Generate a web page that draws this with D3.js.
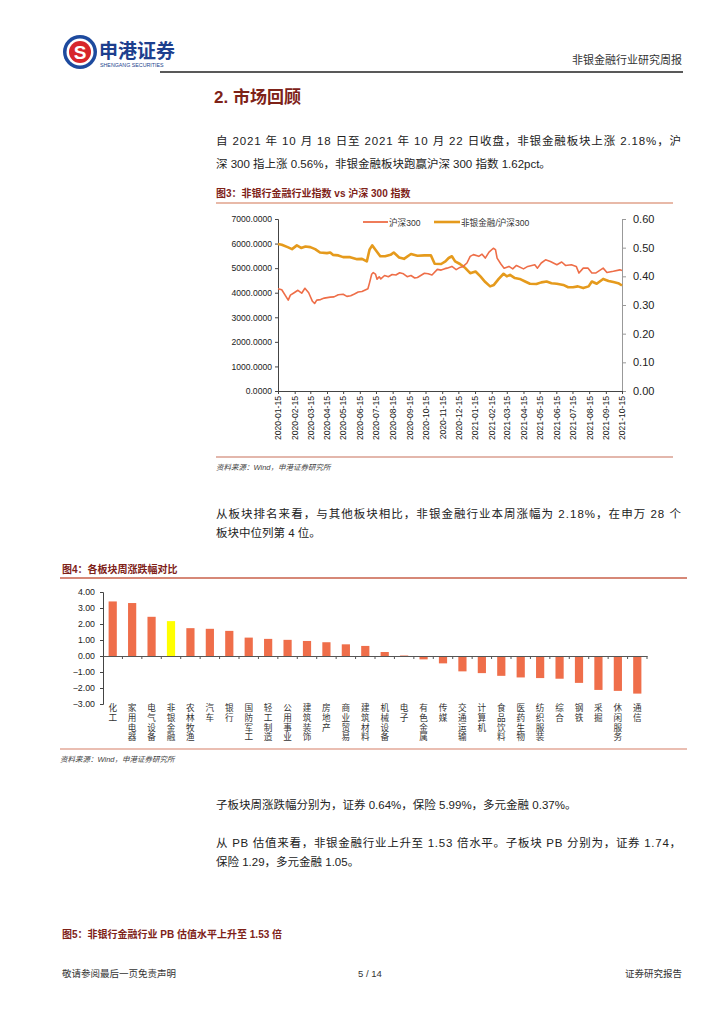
<!DOCTYPE html>
<html><head><meta charset="utf-8">
<script src="https://cdn.jsdelivr.net/npm/d3@7"></script>
<style>body{margin:0;background:#fff}</style>
</head><body><svg id="c" width="724" height="1024"></svg>
<script>
// ---------- DATA ----------
const hsDates=["2020-01-15","2020-01-22","2020-02-03","2020-02-07","2020-02-14","2020-02-21","2020-02-28","2020-03-05","2020-03-12","2020-03-19","2020-03-23","2020-03-27","2020-04-03","2020-04-10","2020-04-21","2020-04-28","2020-05-06","2020-05-15","2020-05-22","2020-05-29","2020-06-05","2020-06-12","2020-06-19","2020-06-30","2020-07-03","2020-07-07","2020-07-10","2020-07-14","2020-07-17","2020-07-21","2020-07-24","2020-07-31","2020-08-07","2020-08-14","2020-08-21","2020-08-28","2020-09-04","2020-09-11","2020-09-18","2020-09-25","2020-09-30","2020-10-13","2020-10-20","2020-10-27","2020-11-06","2020-11-13","2020-11-20","2020-11-24","2020-12-03","2020-12-11","2020-12-18","2020-12-24","2020-12-31","2021-01-06","2021-01-12","2021-01-22","2021-01-28","2021-02-03","2021-02-10","2021-02-18","2021-02-22","2021-02-25","2021-03-04","2021-03-10","2021-03-19","2021-03-26","2021-04-02","2021-04-15","2021-04-23","2021-05-06","2021-05-11","2021-05-18","2021-05-26","2021-06-04","2021-06-16","2021-06-25","2021-07-02","2021-07-13","2021-07-22","2021-07-27","2021-08-04","2021-08-13","2021-08-20","2021-08-27","2021-09-10","2021-09-17","2021-09-29","2021-10-11","2021-10-15"];
const hsValues=[4160,4120,3700,3900,4000,4100,3980,4180,4000,3650,3560,3700,3720,3780,3820,3830,3920,3940,3850,3880,3950,4030,4050,4160,4400,4750,4820,4760,4550,4650,4560,4700,4650,4740,4720,4810,4770,4650,4700,4600,4620,4790,4770,4720,4950,4920,4980,5000,5070,4940,5030,5070,5210,5480,5550,5480,5570,5410,5650,5810,5750,5410,5170,5000,5070,4970,5110,4970,5070,5140,5000,5210,5340,5270,5140,5250,5110,5140,5070,4800,5000,5000,4800,4800,5000,4820,4870,4930,4900];
const ratioDates=["2020-01-15","2020-01-22","2020-02-03","2020-02-10","2020-02-19","2020-02-27","2020-03-06","2020-03-15","2020-03-24","2020-04-02","2020-04-15","2020-04-21","2020-04-26","2020-05-06","2020-05-15","2020-05-28","2020-06-10","2020-06-19","2020-06-28","2020-07-03","2020-07-08","2020-07-14","2020-07-23","2020-08-01","2020-08-11","2020-08-17","2020-08-27","2020-09-05","2020-09-18","2020-09-30","2020-10-13","2020-10-25","2020-11-01","2020-11-13","2020-11-21","2020-11-27","2020-12-03","2020-12-09","2020-12-18","2020-12-28","2021-01-06","2021-01-16","2021-01-25","2021-02-03","2021-02-12","2021-02-19","2021-02-28","2021-03-09","2021-03-15","2021-03-21","2021-03-30","2021-04-08","2021-04-18","2021-04-27","2021-05-09","2021-05-18","2021-05-28","2021-06-06","2021-06-16","2021-06-28","2021-07-07","2021-07-16","2021-07-25","2021-08-04","2021-08-14","2021-08-20","2021-08-29","2021-09-10","2021-09-20","2021-09-29","2021-10-08","2021-10-15"];
const ratioValues=[0.513,0.510,0.501,0.495,0.508,0.499,0.504,0.502,0.495,0.483,0.481,0.483,0.475,0.473,0.467,0.467,0.460,0.461,0.452,0.493,0.508,0.493,0.470,0.470,0.475,0.483,0.466,0.461,0.478,0.472,0.473,0.473,0.444,0.443,0.452,0.464,0.470,0.452,0.443,0.429,0.411,0.417,0.400,0.380,0.365,0.370,0.391,0.409,0.400,0.405,0.394,0.391,0.382,0.374,0.373,0.379,0.382,0.376,0.374,0.370,0.362,0.362,0.365,0.359,0.365,0.382,0.374,0.391,0.384,0.380,0.376,0.368];
const dateTicks=["2020-01-15","2020-02-15","2020-03-15","2020-04-15","2020-05-15","2020-06-15","2020-07-15","2020-08-15","2020-09-15","2020-10-15","2020-11-15","2020-12-15","2021-01-15","2021-02-15","2021-03-15","2021-04-15","2021-05-15","2021-06-15","2021-07-15","2021-08-15","2021-09-15","2021-10-15"];
const leftTicks=[0,1000,2000,3000,4000,5000,6000,7000];
const rightTicks=[0,0.1,0.2,0.3,0.4,0.5,0.6];
const seriesNames=["沪深300","非银金融/沪深300"];

const sectors=["化工","家用电器","电气设备","非银金融","农林牧渔","汽车","银行","国防军工","轻工制造","公用事业","建筑装饰","房地产","商业贸易","建筑材料","机械设备","电子","有色金属","传媒","交通运输","计算机","食品饮料","医药生物","纺织服装","综合","钢铁","采掘","休闲服务","通信"];
const sectorChanges=[3.41,3.31,2.45,2.18,1.74,1.70,1.57,1.15,1.07,1.01,0.94,0.86,0.73,0.63,0.25,0.03,-0.21,-0.46,-0.96,-1.07,-1.24,-1.34,-1.38,-1.42,-1.68,-2.12,-2.18,-2.35];
const sectorTicks=[-3,-2,-1,0,1,2,3,4];
const highlight="非银金融";

// ---------- DRAW ----------
const F="'Liberation Sans','Noto Sans CJK SC',sans-serif";
const svg=d3.select("#c").style("font-family",F);
const parse=d3.timeParse("%Y-%m-%d");
const RED="#EE6E48", ORANGE="#E59A1C", TITLE="#7E2218";

function txt(x,y,s,size,opts={}){
  const t=svg.append("text").attr("x",x).attr("y",y).text(s).style("font-size",size+"px")
    .attr("fill",opts.fill||"#222");
  if(opts.weight) t.style("font-weight",opts.weight);
  if(opts.anchor) t.attr("text-anchor",opts.anchor);
  if(opts.italic) t.style("font-style","italic");
  if(opts.len){t.attr("textLength",opts.len).attr("lengthAdjust","spacing");}
  return t;
}

// header
const logo=svg.append("g").attr("transform","translate(80,52)");
logo.append("circle").attr("r",17).attr("fill","#1D4A9E");
logo.append("circle").attr("r",13.5).attr("fill","#fff");
logo.append("circle").attr("r",11).attr("fill","#D7262B");
logo.append("text").attr("text-anchor","middle").attr("y",6.5).attr("fill","#fff")
  .style("font-size","19px").style("font-weight","bold").text("S");
txt(99,58,"申港证券",19,{fill:"#1D3F8E",weight:"bold"});
txt(100,67,"SHENGANG SECURITIES",5.3,{fill:"#1D3F8E"});
txt(682,64,"非银金融行业研究周报",11,{anchor:"end",fill:"#333"});
svg.append("line").attr("x1",160).attr("x2",683).attr("y1",72).attr("y2",72).attr("stroke","#222").attr("stroke-width",1.3);

// section title & paragraph
txt(214,103,"2. 市场回顾",17,{fill:TITLE,weight:"bold"});
txt(216,145,"自 2021 年 10 月 18 日至 2021 年 10 月 22 日收盘，非银金融板块上涨 2.18%，沪",11.5,{len:465});
txt(216,168,"深 300 指上涨 0.56%，非银金融板块跑赢沪深 300 指数 1.62pct。",11.5);

// chart 3
txt(216,197,"图3：非银行金融行业指数 vs 沪深 300 指数",10,{fill:TITLE,weight:"bold"});
svg.append("line").attr("x1",216).attr("x2",673).attr("y1",203).attr("y2",203).attr("stroke","#E8B9A8").attr("stroke-width",2);
const x3=d3.scaleTime().domain([parse(dateTicks[0]),parse(dateTicks[dateTicks.length-1])]).range([278,622]);
const yL=d3.scaleLinear().domain([0,7000]).range([391,219]);
const yR=d3.scaleLinear().domain([0,0.6]).range([391,219]);
const gL=svg.append("g").attr("transform","translate(278,0)").call(d3.axisLeft(yL).tickValues(leftTicks).tickFormat(d3.format(".4f")).tickSize(3).tickPadding(3));
gL.selectAll("text").style("font-size","8.6px").style("font-family",F).attr("fill","#222");
gL.selectAll("path,line").attr("stroke","#444");
const gR=svg.append("g").attr("transform","translate(622,0)").call(d3.axisRight(yR).tickValues(rightTicks).tickFormat(d3.format(".2f")).tickSize(4).tickPadding(7));
gR.selectAll("text").style("font-size","11px").style("font-family",F).attr("fill","#222");
gR.selectAll("path,line").attr("stroke","#999");
const gB=svg.append("g").attr("transform","translate(0,391)").call(d3.axisBottom(x3).tickValues(dateTicks.map(parse)).tickFormat(d3.timeFormat("%Y-%m-%d")).tickSize(3).tickSizeOuter(0));
gB.selectAll("path,line").attr("stroke","#444");
gB.selectAll("text").style("font-size","8.6px").style("font-family",F).attr("fill","#222")
  .attr("transform","rotate(-90)").attr("x",-5).attr("y",0).attr("dy","0.33em").style("text-anchor","end");
const lineL=d3.line().x((d,i)=>x3(parse(hsDates[i]))).y(d=>yL(d));
const lineR=d3.line().x((d,i)=>x3(parse(ratioDates[i]))).y(d=>yR(d));
svg.append("path").datum(ratioValues).attr("d",lineR).attr("fill","none").attr("stroke",ORANGE).attr("stroke-width",2.6).attr("stroke-linejoin","round");
svg.append("path").datum(hsValues).attr("d",lineL).attr("fill","none").attr("stroke",RED).attr("stroke-width",1.6).attr("stroke-linejoin","round");
// legend
svg.append("line").attr("x1",363).attr("x2",388).attr("y1",222).attr("y2",222).attr("stroke",RED).attr("stroke-width",1.8);
txt(389,225.5,seriesNames[0],8.6,{fill:"#333"});
svg.append("line").attr("x1",434).attr("x2",460).attr("y1",222).attr("y2",222).attr("stroke",ORANGE).attr("stroke-width",2.6);
txt(461,225.5,seriesNames[1],8.6,{fill:"#333"});
svg.append("line").attr("x1",216).attr("x2",673).attr("y1",457).attr("y2",457).attr("stroke","#C8705A").attr("stroke-width",1.2);
txt(216,470,"资料来源：Wind，申港证券研究所",7.5,{fill:"#444",italic:true});

// paragraph 2
txt(216,518,"从板块排名来看，与其他板块相比，非银金融行业本周涨幅为 2.18%，在申万 28 个",11.5,{len:465});
txt(216,537,"板块中位列第 4 位。",11.5);

// chart 4
txt(62,573,"图4：各板块周涨跌幅对比",10,{fill:TITLE,weight:"bold"});
svg.append("line").attr("x1",60).attr("x2",687).attr("y1",578).attr("y2",578).attr("stroke","#C8604A").attr("stroke-width",1.3);
const x4=d3.scaleBand().domain(sectors).range([103,647]).padding(0);
const y4=d3.scaleLinear().domain([-3,4]).range([704,592]);
const bw=8.2;
svg.append("g").selectAll("rect").data(sectors).join("rect")
  .attr("x",d=>x4(d)+x4.bandwidth()/2-bw/2)
  .attr("width",bw)
  .attr("y",(d,i)=>Math.min(y4(sectorChanges[i]),y4(0)))
  .attr("height",(d,i)=>Math.abs(y4(sectorChanges[i])-y4(0)))
  .attr("fill",d=>d===highlight?"#FFFF00":"#EF6E4A");
const gY4=svg.append("g").attr("transform","translate(103,0)").call(d3.axisLeft(y4).tickValues(sectorTicks).tickFormat(d3.format(".2f")).tickSize(3).tickPadding(5));
gY4.selectAll("text").style("font-size","8.8px").style("font-family",F).attr("fill","#222");
gY4.selectAll("path,line").attr("stroke","#444");
// zero axis with boundary ticks
const gX4=svg.append("g").attr("transform",`translate(0,${y4(0)})`).call(d3.axisBottom(x4).tickValues([]).tickSizeOuter(0));
gX4.select("path").attr("stroke","#555");
gX4.selectAll("line.b").data(sectors).join("line").attr("class","b")
  .attr("x1",d=>x4(d)+x4.bandwidth()).attr("x2",d=>x4(d)+x4.bandwidth()).attr("y1",0).attr("y2",3).attr("stroke","#555");
// vertical labels
const lab=svg.append("g");
sectors.forEach(s=>{
  [...s].forEach((ch,j)=>{
    lab.append("text").attr("x",x4(s)+x4.bandwidth()/2).attr("y",711+j*9.8).attr("text-anchor","middle")
      .style("font-size","8.6px").attr("fill","#333").text(ch);
  });
});
svg.append("line").attr("x1",60).attr("x2",687).attr("y1",749).attr("y2",749).attr("stroke","#E3A898").attr("stroke-width",1.5);
txt(60,762,"资料来源：Wind，申港证券研究所",7.5,{fill:"#444",italic:true});

// paragraph 3
txt(216,809,"子板块周涨跌幅分别为，证券 0.64%，保险 5.99%，多元金融 0.37%。",11.5);
txt(216,847,"从 PB 估值来看，非银金融行业上升至 1.53 倍水平。子板块 PB 分别为，证券 1.74，",11.5,{len:465});
txt(216,866,"保险 1.29，多元金融 1.05。",11.5);
txt(62,938,"图5：非银行金融行业 PB 估值水平上升至 1.53 倍",10,{fill:TITLE,weight:"bold"});

// footer
txt(62,977,"敬请参阅最后一页免责声明",9.5,{fill:"#333"});
txt(370,977,"5 / 14",9.5,{fill:"#333",anchor:"middle"});
txt(682,977,"证券研究报告",9.5,{fill:"#333",anchor:"end"});
</script></body></html>
